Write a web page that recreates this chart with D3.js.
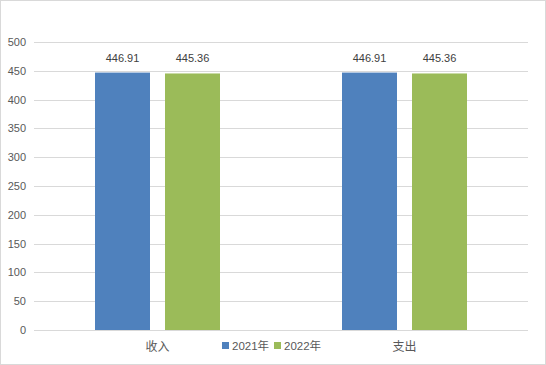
<!DOCTYPE html>
<html><head><meta charset="utf-8">
<script src="https://cdn.jsdelivr.net/npm/d3@7"></script>
<style>body{margin:0;background:#fff}svg{display:block}</style>
</head><body>
<script>
const categories = ["收入", "支出"];
const seriesNames = ["2021年", "2022年"];
const values2021 = [446.91, 446.91];
const values2022 = [445.36, 445.36];
const yTicks = [0, 50, 100, 150, 200, 250, 300, 350, 400, 450, 500];
const colors = ["#4f81bd", "#9bbb59"];

const W = 546, H = 365;
const svg = d3.select("body").append("svg").attr("width", W).attr("height", H);
const font = "'Liberation Sans','Noto Sans CJK SC',sans-serif";
svg.append("rect").attr("x", 0.5).attr("y", 0.5).attr("width", W - 1).attr("height", H - 1)
  .attr("fill", "#fff").attr("stroke", "#d9d9d9");

const m = {l: 34, r: 18, t: 42, b: 35};
const x0 = d3.scaleBand().domain(categories).range([m.l, W - m.r]);
const y = d3.scaleLinear().domain([0, 500]).range([330, 42]);

const g = svg.append("g");
g.selectAll("line.grid").data(yTicks).join("line")
  .attr("x1", m.l).attr("x2", W - m.r)
  .attr("y1", d => Math.round(y(d)) + 0.5).attr("y2", d => Math.round(y(d)) + 0.5)
  .attr("stroke", "#d9d9d9");
g.selectAll("text.yt").data(yTicks).join("text")
  .attr("x", 26).attr("y", d => y(d) + 4).attr("text-anchor", "end")
  .attr("font-family", font).attr("font-size", 11).attr("fill", "#595959").text(d => d);

const barW = 55, gap = 15;
categories.forEach((c, i) => {
  const cx = x0(c) + x0.bandwidth() / 2;
  [values2021[i], values2022[i]].forEach((v, s) => {
    const bx = s === 0 ? cx - gap / 2 - barW : cx + gap / 2;
    g.append("rect").attr("x", bx).attr("y", y(v)).attr("width", barW).attr("height", y(0) - y(v))
      .attr("fill", colors[s]);
    g.append("text").attr("x", bx + barW / 2).attr("y", y(v) - 11).attr("text-anchor", "middle")
      .attr("font-family", font).attr("font-size", 11).attr("fill", "#404040").text(v.toFixed(2));
  });
  g.append("text").attr("x", cx).attr("y", 351).attr("text-anchor", "middle")
    .attr("font-family", font).attr("font-size", 12).attr("fill", "#595959").text(c);
});

// legend
const lg = svg.append("g");
const lx = [222, 274];
seriesNames.forEach((n, s) => {
  lg.append("rect").attr("x", lx[s]).attr("y", 342).attr("width", 7).attr("height", 7).attr("fill", colors[s]);
  lg.append("text").attr("x", lx[s] + 10).attr("y", 350).attr("font-family", font).attr("font-size", 11.5)
    .attr("fill", "#595959").text(n);
});
</script>
</body></html>
